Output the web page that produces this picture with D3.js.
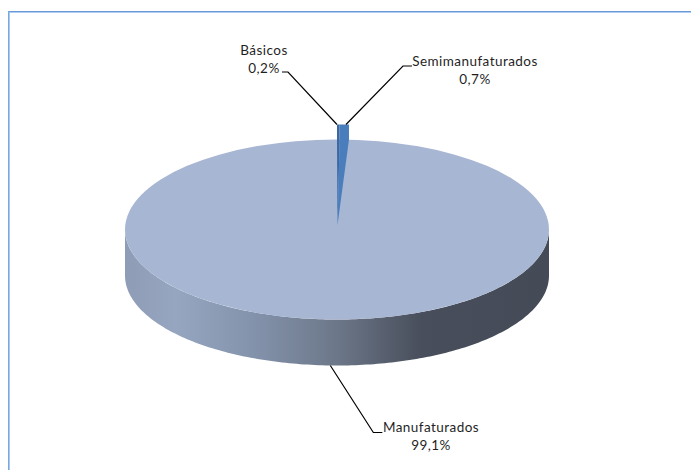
<!DOCTYPE html>
<html>
<head>
<meta charset="utf-8">
<script src="https://cdn.jsdelivr.net/npm/d3@7"></script>
<style>
html, body { margin: 0; padding: 0; background: #fff; }
svg { display: block; }
text { font-family: Lato, "Open Sans", sans-serif; font-size: 13.5px; letter-spacing: 0.45px; fill: #1f1f1f; text-anchor: middle; }
</style>
</head>
<body>
<svg width="691" height="470"></svg>
<script>
var categories = ["Básicos", "Semimanufaturados", "Manufaturados"];
var shares = [0.2, 0.7, 99.1];
var shareLabels = ["0,2%", "0,7%", "99,1%"];
var sliceColors = ["#3b68a3", "#4a7dbb", "#a7b6d3"];

var svg = d3.select("svg");

var cx = 337, cy = 229.5, rx = 212, ry = 90, depth = 46;
var lift = 15; // small slices stick out above the rim
var apexY = 225;

// frame, only top and left sides show, each with a lighter inner pixel
svg.append("line").attr("x1", 8).attr("x2", 691).attr("y1", 12.5).attr("y2", 12.5).attr("stroke", "#afcbf0");
svg.append("line").attr("x1", 9).attr("x2", 9).attr("y1", 11).attr("y2", 470).attr("stroke", "#a9c8f0").attr("stroke-width", 2);
svg.append("line").attr("x1", 8).attr("x2", 691).attr("y1", 11.5).attr("y2", 11.5).attr("stroke", "#6a9ad8");
svg.append("line").attr("x1", 8.5).attr("x2", 8.5).attr("y1", 11).attr("y2", 470).attr("stroke", "#7ba6e0");

var pie = d3.pie().sort(null).value(function (d) { return d; });
var arcs = pie(shares);

var xScale = d3.scaleLinear().domain([-1, 1]).range([cx - rx, cx + rx]);
var yScale = d3.scaleLinear().domain([-1, 1]).range([cy - ry, cy + ry]);

function rimX(a) { return xScale(Math.sin(a)); }
function rimY(a) { return yScale(-Math.cos(a)); }

var defs = svg.append("defs");
var grad = defs.append("linearGradient").attr("id", "side")
    .attr("gradientUnits", "userSpaceOnUse")
    .attr("x1", cx - rx).attr("x2", cx + rx).attr("y1", 0).attr("y2", 0);
[[0, "#8e9cb6"], [0.12, "#97a6c0"], [0.3, "#8493ac"], [0.5, "#6c7789"], [0.7, "#484e5b"], [1, "#444a56"]].forEach(function (s) {
    grad.append("stop").attr("offset", s[0]).attr("stop-color", s[1]);
});

// front wall of the big slice, lower half of the rim
var frontAngles = d3.range(90, 270.5, 1).map(function (d) { return d * Math.PI / 180; });
var wall = d3.area()
    .x(function (a) { return rimX(a); })
    .y0(function (a) { return rimY(a); })
    .y1(function (a) { return rimY(a) + depth; });
svg.append("path").attr("d", wall(frontAngles)).attr("fill", "url(#side)");

// top face of the big slice
var unitArc = d3.arc().innerRadius(0).outerRadius(1);
svg.append("path")
    .attr("transform", "translate(" + cx + "," + cy + ") scale(" + rx + "," + ry + ")")
    .attr("d", unitArc({ startAngle: 0, endAngle: 2 * Math.PI }))
    .attr("fill", sliceColors[2]);

// two thin slices, drawn from a shifted apex
var wedgeY = d3.scaleLinear().domain([0, 1]).range([apexY, cy - ry]);
function wedgePath(d) {
    var xa = rimX(d.startAngle), xb = rimX(d.endAngle);
    var xApex = xScale(0) + 0.5;
    var top = wedgeY(1);
    var line = d3.path();
    line.moveTo(xApex, apexY);
    line.lineTo(xa, top);
    line.lineTo(xa, top - lift);
    line.lineTo(xb, top - lift);
    line.lineTo(xb, top);
    line.closePath();
    return line.toString();
}
svg.selectAll(".thin")
    .data(arcs.slice(0, 2))
    .enter()
    .append("path")
    .attr("class", "thin")
    .attr("d", wedgePath)
    .attr("fill", function (d, i) { return sliceColors[i]; });

// leader lines start at the slice top or the bottom of the wall
var topY = cy - ry - lift;
var leaders = [
    [rimX(arcs[0].startAngle), topY, -49, -52.5, -6],
    [rimX(arcs[1].endAngle) - 3, topY, 57, -58.5, 9],
    [rimX(Math.PI * 1.01), cy + ry + depth, 43, 67, 9]
];
var leaderLine = d3.line();
leaders.forEach(function (l) {
    var x1 = l[0] + l[2], y1 = l[1] + l[3];
    svg.append("path")
        .attr("d", leaderLine([[l[0], l[1]], [x1, y1], [x1 + l[4], y1]]))
        .attr("fill", "none").attr("stroke", "#000").attr("stroke-width", 1.2);
});

// labels
var labelX = [264, 475, 431];
var labelY = [55, 66, 432];
categories.forEach(function (c, i) {
    svg.append("text").attr("x", labelX[i]).attr("y", labelY[i]).text(c);
    svg.append("text").attr("x", labelX[i]).attr("y", labelY[i] + 18).text(shareLabels[i]);
});
</script>
</body>
</html>
